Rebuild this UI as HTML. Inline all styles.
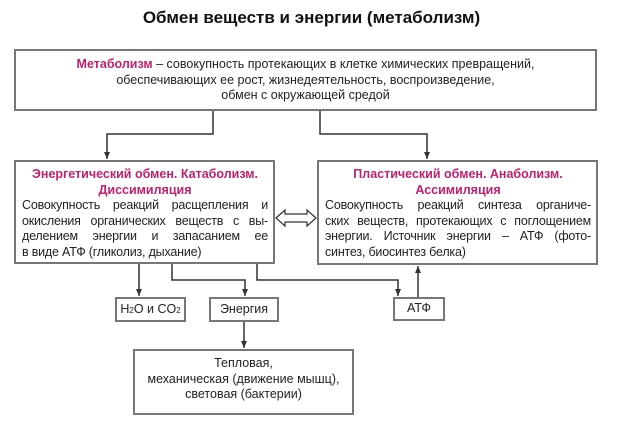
<!DOCTYPE html>
<html><head><meta charset="utf-8"><style>
body{margin:0;width:623px;height:444px;background:#fff;position:relative;font-family:"Liberation Sans","DejaVu Sans",sans-serif;color:#222;overflow:hidden}
.b{position:absolute;border:2px solid #777;box-sizing:border-box;background:#fff}
.t{position:absolute;font-size:12.5px;line-height:15.5px}
.m{color:#c0206e;font-weight:bold}
.l{display:block;text-align:justify;text-align-last:justify;white-space:nowrap;letter-spacing:-0.2px}
.l.e{text-align-last:left}
</style></head><body>
<div style="position:absolute;left:0;width:623px;top:8px;text-align:center;font-size:17px;font-weight:bold;color:#111">Обмен веществ и энергии (метаболизм)</div>
<div class="b" style="left:14px;top:49px;width:583px;height:62px"></div>
<div class="t" style="left:14px;top:57px;width:583px;text-align:center"><span class="m">Метаболизм</span> – совокупность протекающих в клетке химических превращений,<br>обеспечивающих ее рост, жизнедеятельность, воспроизведение,<br>обмен с окружающей средой</div>

<div class="b" style="left:14px;top:160px;width:261px;height:104px"></div>
<div class="t" style="left:22px;top:167px;width:246px"><div class="m" style="text-align:center">Энергетический обмен. Катаболизм.<br>Диссимиляция</div>
<span class="l">Совокупность реакций расщепления и</span>
<span class="l">окисления органических веществ с вы-</span>
<span class="l">делением энергии и запасанием ее</span>
<span class="l e">в виде АТФ (гликолиз, дыхание)</span></div>

<div class="b" style="left:317px;top:160px;width:281px;height:105px"></div>
<div class="t" style="left:325px;top:167px;width:266px"><div class="m" style="text-align:center">Пластический обмен. Анаболизм.<br>Ассимиляция</div>
<span class="l">Совокупность реакций синтеза органиче-</span>
<span class="l">ских веществ, протекающих с поглощением</span>
<span class="l">энергии. Источник энергии – АТФ (фото-</span>
<span class="l e">синтез, биосинтез белка)</span></div>

<div class="b" style="left:115px;top:297px;width:71px;height:25px"></div>
<div class="t" style="left:115px;top:302px;width:71px;text-align:center">H<span style="font-size:8px">2</span>O и CO<span style="font-size:8px">2</span></div>
<div class="b" style="left:209px;top:297px;width:70px;height:25px"></div>
<div class="t" style="left:209px;top:302px;width:70px;text-align:center">Энергия</div>
<div class="b" style="left:393px;top:297px;width:52px;height:24px"></div>
<div class="t" style="left:393px;top:301px;width:52px;text-align:center">АТФ</div>
<div class="b" style="left:133px;top:349px;width:221px;height:66px"></div>
<div class="t" style="left:133px;top:356px;width:221px;text-align:center">Тепловая,<br>механическая (движение мышц),<br>световая (бактерии)</div>

<svg width="623" height="444" style="position:absolute;left:0;top:0" fill="none" stroke="#333" stroke-width="1.5">
<defs><marker id="a" markerWidth="8" markerHeight="8" refX="7" refY="4" orient="auto" markerUnits="userSpaceOnUse"><path d="M0,1 L7,4 L0,7 Z" fill="#333" stroke="none"/></marker></defs>
<path d="M213 111 V134 H107 V159" marker-end="url(#a)"/>
<path d="M320 111 V134 H427 V159" marker-end="url(#a)"/>
<path d="M139 264 V296" marker-end="url(#a)"/>
<path d="M172 264 V280 H245 V296" marker-end="url(#a)"/>
<path d="M257 264 V280 H398 V296" marker-end="url(#a)"/>
<path d="M418 297 V266" marker-end="url(#a)"/>
<path d="M244 322 V348" marker-end="url(#a)"/>
<path d="M276 218 L285 210 V214 H307 V210 L316 218 L307 226 V222 H285 V226 Z" stroke-width="1.2" fill="#fff"/>
</svg>
</body></html>
